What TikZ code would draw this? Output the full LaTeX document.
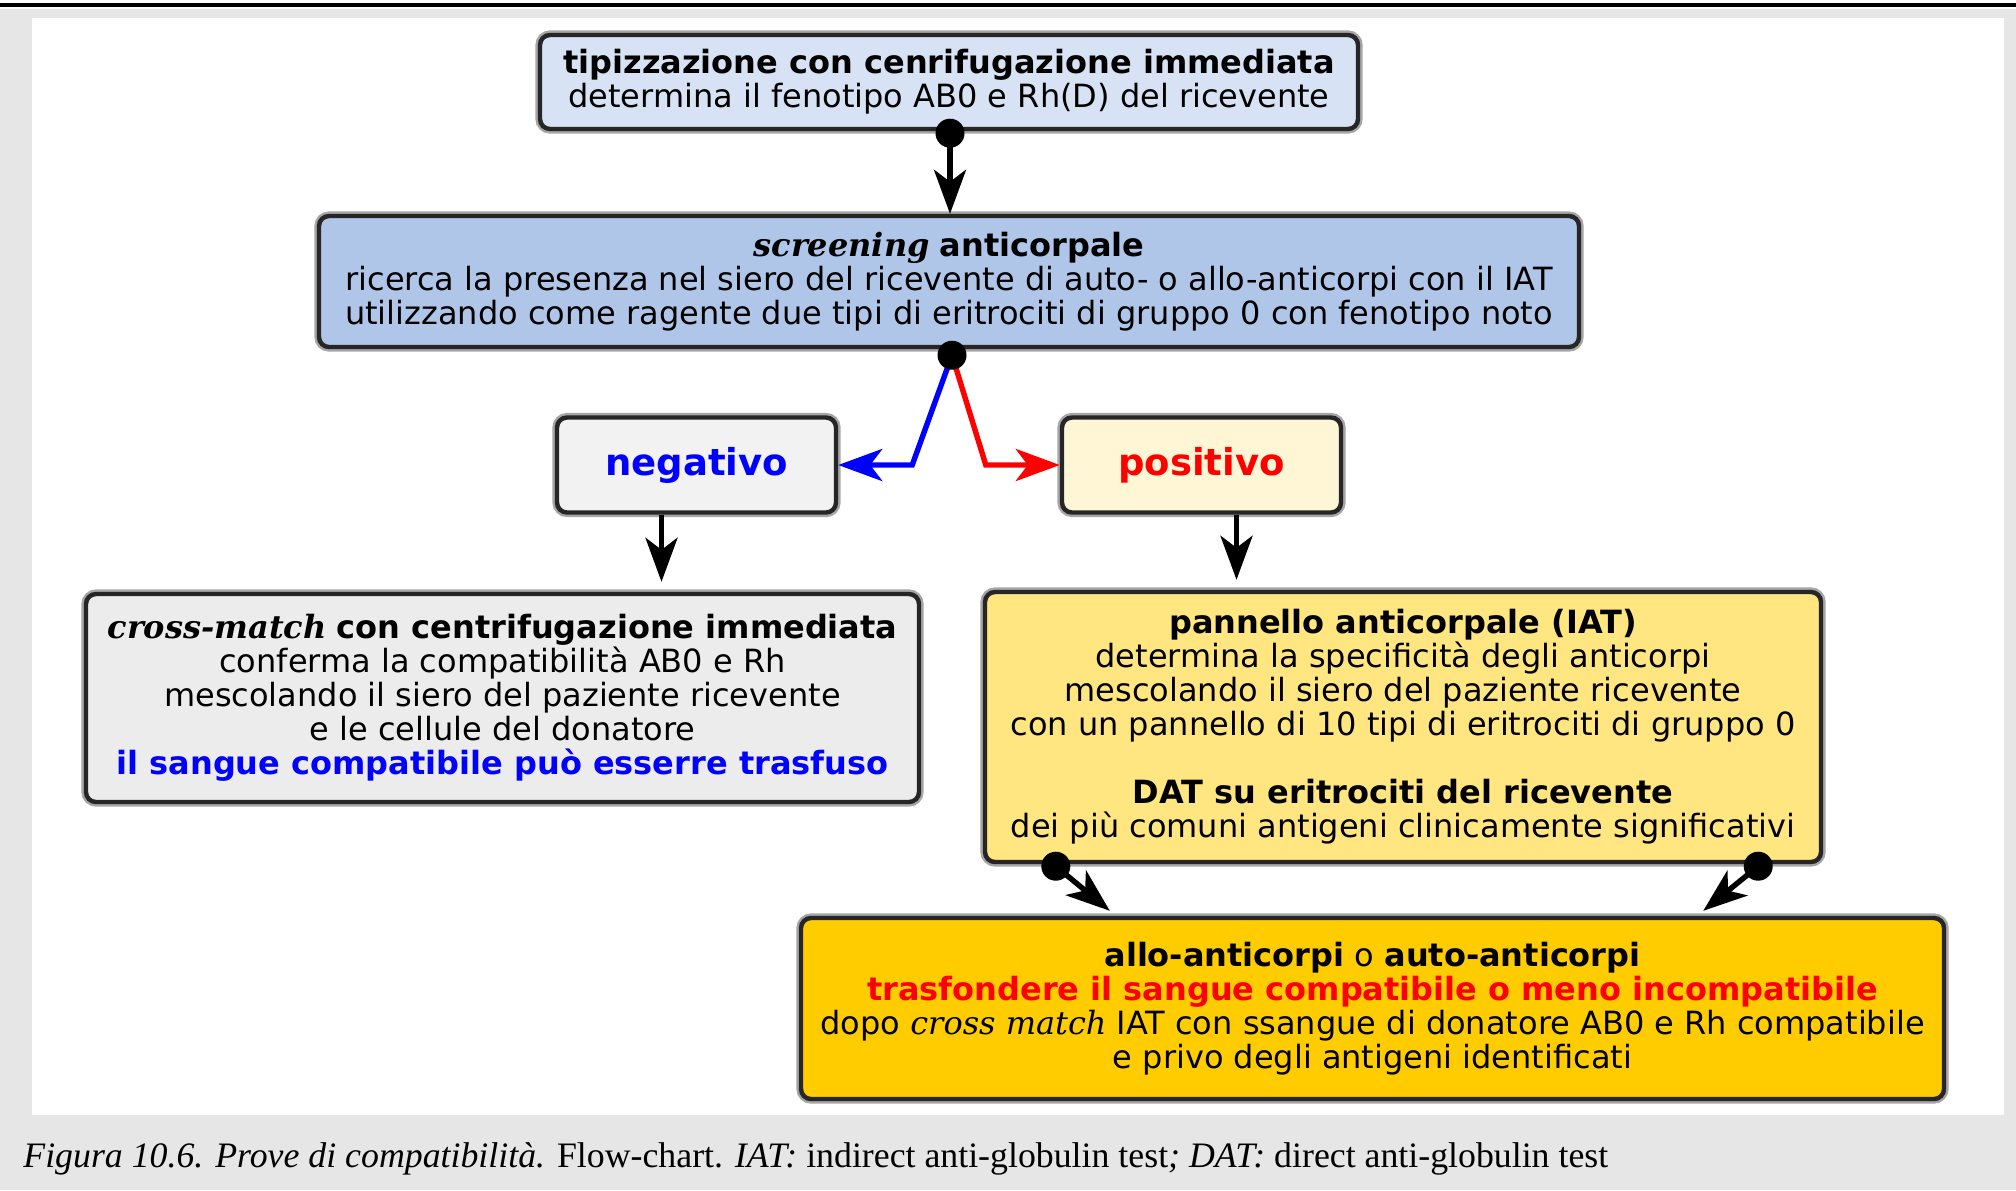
\documentclass[tikz,border=0pt]{standalone}
\usepackage{fontspec}
\setsansfont{DejaVu Sans}
\newfontfamily\capfont{Liberation Serif}
\newfontfamily\serfont{DejaVu Serif}
\usepackage{tikz}
\usetikzlibrary{arrows.meta,positioning,calc}
\definecolor{tipfill}{HTML}{D7E3F4}
\definecolor{scrfill}{HTML}{AFC6E9}
\definecolor{negfill}{HTML}{F2F2F2}
\definecolor{posfill}{HTML}{FFF6D5}
\definecolor{xmfill}{HTML}{ECECEC}
\definecolor{panfill}{HTML}{FFE680}
\definecolor{finfill}{HTML}{FFCC00}
\definecolor{bggray}{HTML}{E6E6E6}
\newcommand{\serbi}[1]{{\serfont\bfseries\itshape #1}}
\newcommand{\serit}[1]{{\serfont\itshape #1}}

\begin{document}
\begin{tikzpicture}[x=0.5pt,y=-0.5pt,every node/.style={font=\sffamily\fontsize{16}{17}\selectfont},
 box/.style={draw=black!85,line width=2.2pt,rounded corners=5pt,inner sep=0pt,align=center,
  preaction={draw=black!35,line width=4.6pt}},
 arr/.style={line width=2.7pt,-{Stealth[length=22pt,width=16pt,inset=6pt]}},
 dot/.style={circle,fill=black,inner sep=0pt,minimum size=14.5pt}]
% page frame
\useasboundingbox (0,0) rectangle (2016,1190);
\fill[bggray] (0,9) rectangle (2016,1190);
\fill[white] (32,18) rectangle (2004,1115);
\draw[line width=1.6pt] (0,5) -- (2016,5);
% boxes
\node[box,fill=tipfill,minimum width=409pt,minimum height=47pt](tip) at (949,82)
 {\textbf{tipizzazione con cenrifugazione immediata}\\determina il fenotipo AB0 e Rh(D) del ricevente};
\node[box,fill=scrfill,minimum width=630pt,minimum height=65.5pt](scr) at (949,281.5)
 {\serbi{screening} \textbf{anticorpale}\\ricerca la presenza nel siero del ricevente di auto- o allo-anticorpi con il IAT\\utilizzando come ragente due tipi di eritrociti di gruppo 0 con fenotipo noto};
\node[box,fill=negfill,minimum width=139.5pt,minimum height=47.5pt,font=\sffamily\fontsize{18.5}{22}\selectfont\bfseries,text=blue](neg) at (696.5,465) {negativo};
\node[box,fill=posfill,minimum width=139.5pt,minimum height=47.5pt,font=\sffamily\fontsize{18.5}{22}\selectfont\bfseries,text=red](pos) at (1201.5,465) {positivo};
\node[box,fill=xmfill,minimum width=416.5pt,minimum height=104pt](xm) at (502.5,698)
 {\serbi{cross-match} \textbf{con centrifugazione immediata}\\conferma la compatibilità AB0 e Rh\\mescolando il siero del paziente ricevente\\e le cellule del donatore\\\textcolor{blue}{\textbf{il sangue compatibile può esserre trasfuso}}};
\node[box,fill=panfill,minimum width=418pt,minimum height=135pt](pan) at (1403,727)
 {\textbf{pannello anticorpale (IAT)}\\determina la specificità degli anticorpi\\mescolando il siero del paziente ricevente\\con un pannello di 10 tipi di eritrociti di gruppo 0\\[17pt]\textbf{DAT su eritrociti del ricevente}\\dei più comuni antigeni clinicamente significativi};
\node[box,fill=finfill,minimum width=571.5pt,minimum height=90.5pt](fin) at (1372.5,1008.5)
 {\textbf{allo-anticorpi} o \textbf{auto-anticorpi}\\\textcolor{red}{\textbf{trasfondere il sangue compatibile o meno incompatibile}}\\dopo \serit{cross match} IAT con ssangue di donatore AB0 e Rh compatibile\\e privo degli antigeni identificati};
% caption
\node[anchor=base west,inner sep=0pt,font=\capfont\fontsize{17.9}{20}\selectfont](cap) at (23,1167)
 {\textit{Figura 10.6. Prove di compatibilità.} Flow-chart. \textit{IAT:} indirect anti-globulin test\textit{; DAT:} direct anti-globulin test};
% connectors
\coordinate(d1) at ($(tip.south)+(1,2)$);
\coordinate(d2) at ($(scr.south)+(3,6)$);
\coordinate(d3) at ($(pan.south west)+(73,2)$);
\coordinate(d4) at ($(pan.south east)+(-65,2)$);
\coordinate(n1) at ($(neg.south)+(-35,0)$);
\coordinate(p1) at ($(pos.south)+(35,0)$);
\draw[arr](d1)--(d1|-scr.north);
\draw[arr,blue,line cap=round](d2)--($(neg.east)+(74,0)$)--(neg.east);
\draw[arr,red,line cap=round](d2)--($(pos.west)+(-74,0)$)--(pos.west);
\draw[arr,shorten >=5pt](n1)--(n1|-xm.north);
\draw[arr,shorten >=5pt](p1)--(p1|-pan.north);
\draw[arr](d3)--($(fin.north west)+(311,-5)$);
\draw[arr](d4)--($(fin.north east)+(-243,-5)$);
\foreach \d in {d1,d2,d3,d4} \node[dot] at (\d) {};
\end{tikzpicture}
\end{document}
